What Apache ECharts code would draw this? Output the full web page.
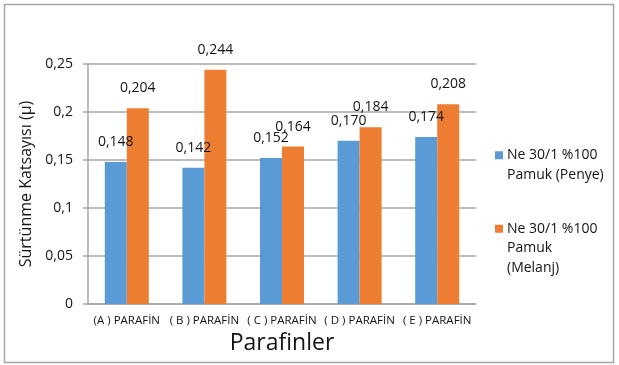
<!DOCTYPE html>
<html>
<head>
<meta charset="utf-8">
<script src="https://cdn.jsdelivr.net/npm/echarts@6/dist/echarts.min.js"></script>
<style>
  html, body { margin: 0; padding: 0; background: #fff; }
  #chart { width: 619px; height: 365px; }
</style>
</head>
<body>
<div id="chart"></div>
<script>
// Paraffin types on the category axis
const categories = ['(A ) PARAFİN', '( B ) PARAFİN', '( C ) PARAFİN', '( D ) PARAFİN', '( E ) PARAFİN'];
// Friction coefficient per yarn type
const penyeValues = [0.148, 0.142, 0.152, 0.170, 0.174];
const melanjValues = [0.204, 0.244, 0.164, 0.184, 0.208];
const seriesNames = ['Ne 30/1 %100 Pamuk (Penye)', 'Ne 30/1 %100 Pamuk (Melanj)'];
// Legend text, first line centred on the swatch
const legendTexts = ['\nNe 30/1 %100\nPamuk (Penye)', '\n\nNe 30/1 %100\nPamuk\n(Melanj)'];
const yTicks = [0, 0.05, 0.1, 0.15, 0.2, 0.25];
const yTickLabels = ['0', '0,05', '0,1', '0,15', '0,2', '0,25'];

const FONT = '"Open Sans", sans-serif';
const TXT = '#141414';
const colors = ['#5B9BD5', '#ED7D31'];

const chart = echarts.init(document.getElementById('chart'), null, { renderer: 'canvas' });

function yLabel(v) {
  for (let i = 0; i < yTicks.length; i++) {
    if (Math.abs(yTicks[i] - v) < 1e-9) return yTickLabels[i];
  }
  return '';
}

function valueLabel(p) {
  return p.value.toFixed(3).replace('.', ',');
}

function makeLegend(idx, top) {
  return {
    left: 495,
    top: top,
    padding: 0,
    orient: 'vertical',
    icon: 'rect',
    itemWidth: 8,
    itemHeight: 8,
    itemGap: 0,
    selectedMode: false,
    data: [seriesNames[idx]],
    formatter: () => legendTexts[idx],
    textStyle: { fontFamily: FONT, fontSize: 14, color: TXT, lineHeight: 19.5, padding: [0, 0, 0, -1] }
  };
}

chart.setOption({
  animation: false,
  color: colors,
  graphic: [{
    type: 'rect',
    shape: { x: 4.5, y: 4.5, width: 609, height: 358 },
    style: { fill: 'none', stroke: '#a6a6a6', lineWidth: 1.5 },
    silent: true
  }],
  legend: [makeLegend(0, 126), makeLegend(1, 180)],
  grid: { left: 88, right: 143, top: 64, bottom: 61, containLabel: false },
  xAxis: {
    type: 'category',
    data: categories,
    name: 'Parafinler',
    nameLocation: 'middle',
    nameGap: 27,
    nameTextStyle: { fontFamily: FONT, fontSize: 23, color: TXT },
    axisLine: { lineStyle: { color: '#a6a6a6', width: 1.5 } },
    axisTick: { show: false },
    axisLabel: { interval: 0, fontFamily: FONT, fontSize: 11.5, color: TXT, margin: 11 }
  },
  yAxis: {
    type: 'value',
    min: 0,
    max: 0.25,
    interval: 0.05,
    name: 'Sürtünme Katsayısı (µ)',
    nameLocation: 'middle',
    nameGap: 53,
    nameTextStyle: { fontFamily: FONT, fontSize: 16, color: TXT },
    axisLine: { show: true, lineStyle: { color: '#a6a6a6', width: 1.5 } },
    axisTick: { show: true, length: 5, lineStyle: { color: '#a6a6a6', width: 1.5 } },
    splitLine: { lineStyle: { color: '#a6a6a6', width: 1.5 } },
    axisLabel: { fontFamily: FONT, fontSize: 14, color: TXT, margin: 15, formatter: yLabel }
  },
  series: [
    {
      name: seriesNames[0],
      type: 'bar',
      data: penyeValues,
      barWidth: 22,
      barGap: '0%',
      label: { show: true, position: 'top', distance: 13, formatter: valueLabel,
               fontFamily: FONT, fontSize: 14, color: TXT }
    },
    {
      name: seriesNames[1],
      type: 'bar',
      data: melanjValues,
      barWidth: 22,
      barGap: '0%',
      label: { show: true, position: 'top', distance: 13, formatter: valueLabel,
               fontFamily: FONT, fontSize: 14, color: TXT }
    }
  ]
});
</script>
</body>
</html>
